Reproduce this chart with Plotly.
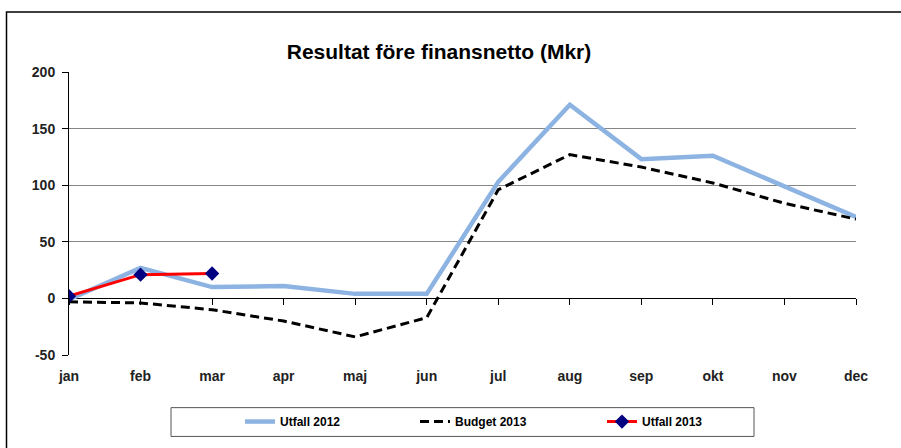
import plotly.graph_objects as go

months = ["jan", "feb", "mar", "apr", "maj", "jun", "jul", "aug", "sep", "okt", "nov", "dec"]
utfall_2012 = [-1, 27, 10, 11, 4, 4, 103, 171, 123, 126, 99, 72]
budget_2013 = [-3, -4, -10, -20, -34, -17, 96, 127, 116, 102, 84, 70]
utfall_2013 = [2, 21, 22]
y_ticks = [-50, 0, 50, 100, 150, 200]
y_tick_labels = ["-50", "0", "50", "100", "150", "200"]

idx = list(range(len(months)))
FONT = "Arial, Liberation Sans, sans-serif"

fig = go.Figure()
fig.add_trace(go.Scatter(x=idx, y=utfall_2012, mode="lines", name="Utfall 2012", legend="legend",
                         line=dict(color="#8DB3E2", width=4.5), hoverinfo="skip"))
fig.add_trace(go.Scatter(x=idx, y=budget_2013, mode="lines", name="Budget 2013", legend="legend2",
                         line=dict(color="#000000", width=3, dash="9px,5px"), hoverinfo="skip"))
fig.add_trace(go.Scatter(x=idx[:len(utfall_2013)], y=utfall_2013, mode="lines+markers", name="Utfall 2013",
                         legend="legend3",
                         line=dict(color="#FF0000", width=3),
                         marker=dict(symbol="diamond", size=11, color="#000080"), hoverinfo="skip"))
# invisible helper trace so the tick-mark axis at y=0 is drawn
fig.add_trace(go.Scatter(x=idx, y=utfall_2012, xaxis="x2", mode="lines", opacity=0,
                         line=dict(width=0), showlegend=False, hoverinfo="skip"))

px_l, px_r, px_t, px_b = 69, 856, 72, 357
W, H = 901, 448
pw, ph = px_r - px_l, px_b - px_t

def xp(px):
    return (px - px_l) / pw

def yp(py):
    return (px_b - py) / ph

zero_pos = (0 - y_ticks[0]) / (y_ticks[-1] - y_ticks[0])

def leg(x_px):
    return dict(orientation="h", x=xp(x_px), xanchor="left", y=yp(424), yanchor="middle",
                font=dict(size=12, family=FONT, color="#000", weight="bold"),
                bgcolor="rgba(0,0,0,0)", borderwidth=0)

fig.update_layout(
    width=W, height=H,
    margin=dict(l=px_l, r=W - px_r, t=px_t, b=H - px_b, pad=0),
    paper_bgcolor="white", plot_bgcolor="white",
    font=dict(family=FONT, color="#000"),
    title=dict(text="<b>Resultat före finansnetto (Mkr)</b>", x=439 / W, xanchor="center",
               y=1 - 51.5 / H, yanchor="middle", font=dict(size=21, family=FONT, color="#000")),
    xaxis=dict(range=[0, len(months) - 1], tickvals=idx, ticktext=months, showgrid=False,
               zeroline=False, showline=False, ticks="", ticklabelstandoff=11,
               tickfont=dict(size=14, family=FONT, color="#222", weight="bold")),
    xaxis2=dict(range=[0, len(months) - 1], tickvals=idx, overlaying="x", anchor="free",
                position=zero_pos,
                showticklabels=False, ticks="outside", ticklen=6, tickcolor="#000", tickwidth=1,
                showgrid=False, zeroline=False, showline=False),
    yaxis=dict(range=[y_ticks[0], y_ticks[-1]], tickvals=y_ticks, ticktext=y_tick_labels,
               showgrid=True, gridcolor="#868686",
               gridwidth=1, zeroline=True, zerolinecolor="#000", zerolinewidth=1,
               showline=True, linecolor="#000", linewidth=1, ticks="outside", ticklen=6,
               tickcolor="#000", ticklabelstandoff=4,
               tickfont=dict(size=14, family=FONT, color="#222", weight="bold")),
    showlegend=True,
    legend=leg(240),
    legend2=leg(415),
    legend3=leg(602),
    shapes=[
        # outer chart border (left and top visible)
        dict(type="path", xref="paper", yref="paper",
             path=f"M {xp(6.5)},{yp(460)} L {xp(6.5)},{yp(11.5)} L {xp(905)},{yp(11.5)}",
             line=dict(color="#000", width=1.5)),
        # legend box
        dict(type="rect", xref="paper", yref="paper", x0=xp(171), x1=xp(754), y0=yp(439), y1=yp(410),
             line=dict(color="#555", width=1), fillcolor="rgba(0,0,0,0)", layer="below"),
    ],
)

fig.write_html("out.html", config={"displayModeBar": False},
               post_script="document.body.style.margin='0px';document.body.style.overflow='hidden';")
